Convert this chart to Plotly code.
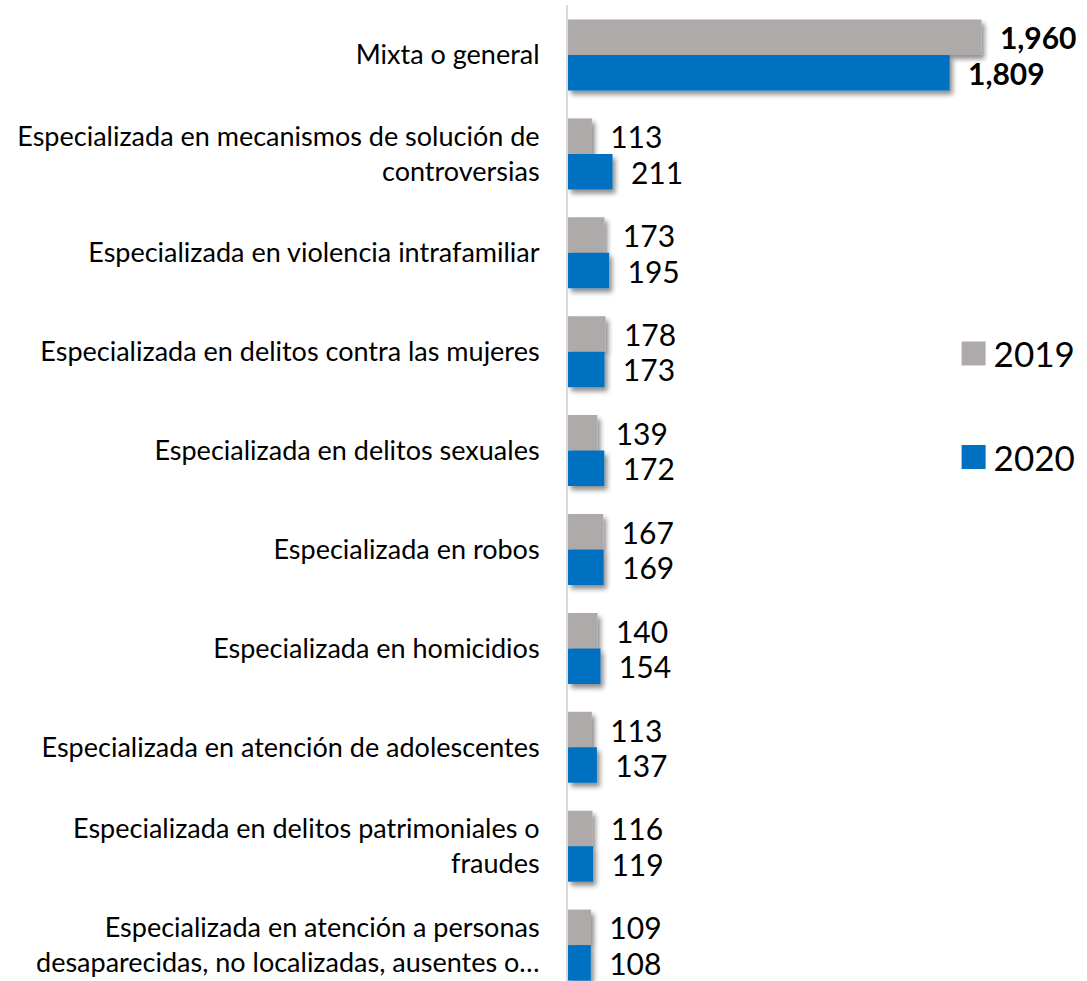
import plotly.graph_objects as go

categories = [
    "Mixta o general",
    "Especializada en mecanismos de solución de controversias",
    "Especializada en violencia intrafamiliar",
    "Especializada en delitos contra las mujeres",
    "Especializada en delitos sexuales",
    "Especializada en robos",
    "Especializada en homicidios",
    "Especializada en atención de adolescentes",
    "Especializada en delitos patrimoniales o fraudes",
    "Especializada en atención a personas desaparecidas, no localizadas, ausentes o…",
]
tick_labels = [
    "Mixta o general",
    "Especializada en mecanismos de solución de<br>controversias",
    "Especializada en violencia intrafamiliar",
    "Especializada en delitos contra las mujeres",
    "Especializada en delitos sexuales",
    "Especializada en robos",
    "Especializada en homicidios",
    "Especializada en atención de adolescentes",
    "Especializada en delitos patrimoniales o<br>fraudes",
    "Especializada en atención a personas<br>desaparecidas, no localizadas, ausentes o…",
]
values_2019 = [1960, 113, 173, 178, 139, 167, 140, 113, 116, 109]
values_2020 = [1809, 211, 195, 173, 172, 169, 154, 137, 119, 108]

GRAY = "#AEAAAA"
BLUE = "#0070C0"
FONT = "Lato"
NB = "\u00a0"


def labels(vals):
    out = []
    for i, v in enumerate(vals):
        s = f"{v:,}"
        out.append(NB + NB + (f"<b>{s}</b>" if i == 0 else s))
    return out


fig = go.Figure()
fig.add_trace(go.Bar(
    y=categories, x=values_2019, orientation="h", name="2019",
    marker=dict(color=GRAY, line=dict(width=0)),
    text=labels(values_2019), textposition="outside", constraintext="none",
    cliponaxis=False, textfont=dict(family=FONT, size=30, color="#000000"),
    legendgroup="a",
))
fig.add_trace(go.Bar(
    y=categories, x=values_2020, orientation="h", name="2020",
    marker=dict(color=BLUE, line=dict(width=0)),
    text=labels(values_2020), textposition="outside", constraintext="none",
    cliponaxis=False, textfont=dict(family=FONT, size=30, color="#000000"),
    legendgroup="b",
))

fig.update_layout(
    template="none",
    width=1087, height=981,
    margin=dict(l=568, r=0, t=5, b=0, autoexpand=False),
    paper_bgcolor="white", plot_bgcolor="white",
    barmode="group", bargap=0.282, bargroupgap=0,
    showlegend=True,
    legend=dict(
        x=0.743, xanchor="left", y=0.59, yanchor="middle",
        font=dict(family=FONT, size=35, color="#000000"),
        tracegroupgap=55, bgcolor="rgba(0,0,0,0)", borderwidth=0,
    ),
    xaxis=dict(range=[0, 2460], visible=False, showgrid=False,
               zeroline=False, automargin=False),
    yaxis=dict(
        type="category", categoryorder="array", categoryarray=categories,
        range=[9.363, -0.5056], automargin=False,
        tickvals=categories, ticktext=tick_labels,
        tickfont=dict(family=FONT, size=27, color="#000000"),
        showline=True, linecolor="#D9D9D9", linewidth=2,
        ticks="", showgrid=False, zeroline=False,
        ticklabelstandoff=21,
    ),
)

post = """
document.body.style.margin = '0';
document.body.style.padding = '0';
var gd = document.getElementById('{plot_id}');
function fx() {
  var ns = 'http://www.w3.org/2000/svg';
  var svg = gd.querySelector('svg.main-svg');
  if (!svg) return;
  if (!document.getElementById('shd')) {
    var defs = svg.querySelector('defs');
    if (!defs) { defs = document.createElementNS(ns, 'defs'); svg.insertBefore(defs, svg.firstChild); }
    var f = document.createElementNS(ns, 'filter');
    f.setAttribute('id', 'shd');
    f.setAttribute('x', '-50%'); f.setAttribute('y', '-50%');
    f.setAttribute('width', '200%'); f.setAttribute('height', '200%');
    f.innerHTML = '<feGaussianBlur in="SourceAlpha" stdDeviation="2.5"/>' +
      '<feOffset dx="3" dy="4" result="o"/>' +
      '<feComponentTransfer><feFuncA type="linear" slope="0.45"/></feComponentTransfer>' +
      '<feMerge><feMergeNode/><feMergeNode in="SourceGraphic"/></feMerge>';
    defs.appendChild(f);
  }
  gd.querySelectorAll('.bars .point path').forEach(function(p){ p.setAttribute('filter', 'url(#shd)'); });
  gd.querySelectorAll('.legendpoints path').forEach(function(p){
    p.setAttribute('d', 'M12,12H-12V-12H12Z');
  });
}
fx();
if (gd.on) gd.on('plotly_afterplot', fx);
setTimeout(fx, 30);
"""

fig.write_html("out.html", post_script=post, config={"displayModeBar": False})
